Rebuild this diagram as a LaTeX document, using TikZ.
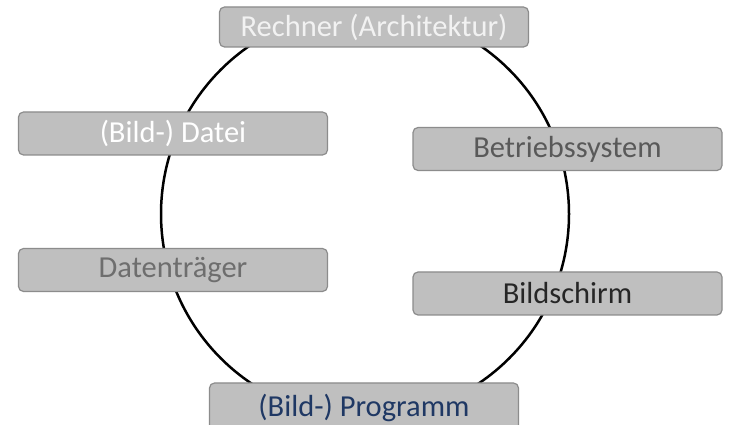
\documentclass[tikz,border=0pt]{standalone}
\usepackage{fontspec}
\setmainfont{Carlito}
\definecolor{boxfill}{HTML}{BFBFBF}
\definecolor{boxline}{HTML}{8C8C8C}
\definecolor{txtlight}{HTML}{F2F2F2}
\definecolor{txtmid}{HTML}{595959}
\definecolor{txtsoft}{HTML}{6E6E6E}
\definecolor{txtdark}{HTML}{262626}
\definecolor{txtnavy}{HTML}{1F3864}
\begin{document}
\begin{tikzpicture}[x=1pt,y=1pt,
  topicfont/.style={font=\fontsize{30.5}{35}\selectfont},
  topic/.style={draw=boxline, fill=boxfill, line width=1.2pt, rounded corners=5pt,
    minimum width=309pt, minimum height=43pt, inner sep=0pt, topicfont}]
\clip (0,0) rectangle (730,425);
\useasboundingbox (0,0) rectangle (730,425);
\fill[white] (0,0) rectangle (730,425);
% cycle ring behind the boxes
\coordinate (c) at (365,211);
\draw[line width=2.5pt] (c) circle[radius=204];
% boxes (centres given as x, 425 - y)
\node[topic, text=txtlight, minimum height=40pt] (rech) at (374,398) {Rechner (Architektur)};
\node[topic, text=white] (datei) at (173,291.5) {(Bild-) Datei};
\node[topic, text=txtmid] (betr) at (567.5,276) {Betriebssystem};
\node[topic, text=txtsoft] (dtr) at (173,155) {Datenträger};
\node[topic, text=txtdark] (bild) at (567.5,131.5) {Bildschirm};
\node[topic, minimum height=50pt] (prog) at (364,17) {};
\node[text=txtnavy, topicfont, inner sep=0pt] (progt) at (364,17) {(Bild-) Programm};
\end{tikzpicture}
\end{document}
